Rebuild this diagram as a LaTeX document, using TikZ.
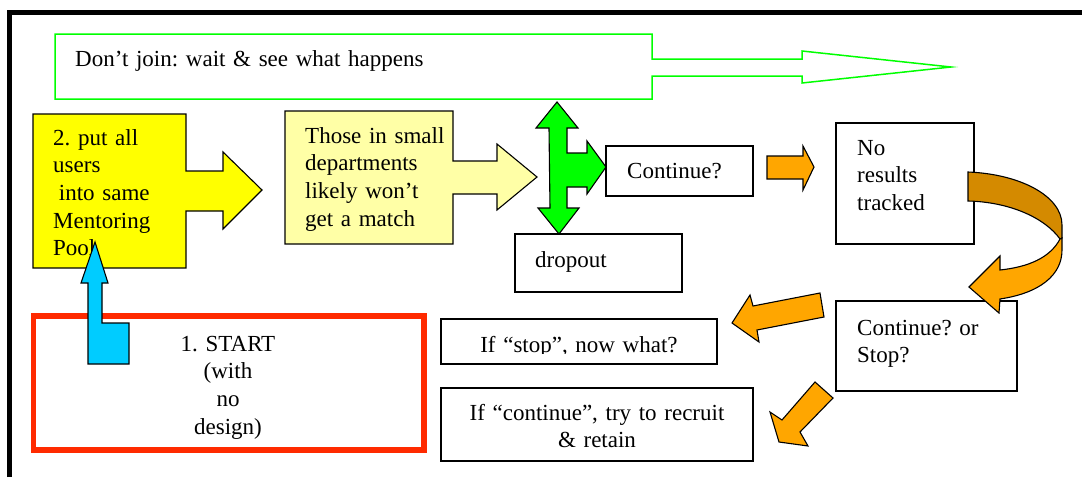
\documentclass[tikz,border=0pt]{standalone}
\usepackage{fontspec}
\setmainfont{Liberation Serif}
\usepackage{xcolor}
\usepackage{tikz}
\usetikzlibrary{calc}
\frenchspacing

\definecolor{poolyellow}{RGB}{255,255,0}
\definecolor{paleyellow}{RGB}{255,255,166}
\definecolor{waitgreen}{RGB}{0,255,0}
\definecolor{startred}{RGB}{255,42,0}
\definecolor{loopcyan}{RGB}{0,204,255}
\definecolor{steporange}{RGB}{255,166,0}
\definecolor{backorange}{RGB}{212,138,0}

\begin{document}
\begin{tikzpicture}[
  x=1pt, y=-1pt,
  every node/.style={inner sep=0pt, font=\fontsize{23}{27.7}\selectfont},
  lbl/.style={align=left, anchor=base west},
  clbl/.style={align=center, anchor=base},
  blk/.style={draw=black, line width=1.1pt}
]
\useasboundingbox[fill=white] (0,0) rectangle (1082,477);

% outer frame
\draw[line width=5pt] (9.5,477) -- (9.5,12.5) -- (1082,12.5);

% wait and see
\draw[waitgreen, line width=1.5pt] (55,34) -- (652,34) -- (652,59) -- (802,59) -- (802,51)
  -- (951,67) -- (802,83) -- (802,76) -- (652,76) -- (652,99) -- (55,99) -- cycle;
\node[lbl, text width=420pt] (wait) at (75,66) {Don’t join: wait \& see what happens};

% step 2 and its consequence
\draw[blk, fill=poolyellow] (33,114) -- (186,114) -- (186,171) -- (223,171) -- (223,152)
  -- (262,190) -- (223,229) -- (223,211) -- (186,211) -- (186,268) -- (33,268) -- cycle;
\node[lbl, text width=120pt] (pool) at (53,145)
  {2. put all\\users\\\hspace*{0.25em}into same\\Mentoring\\Pool};

\draw[blk, fill=paleyellow] (285,111) -- (453,111) -- (453,161) -- (497,161) -- (497,144)
  -- (537,177) -- (497,210) -- (497,194) -- (453,194) -- (453,244) -- (285,244) -- cycle;
\node[lbl, text width=150pt] (small) at (305,143)
  {Those in small\\departments\\likely won’t\\get a match};

% three way split
\draw[blk, fill=waitgreen] (557,102) -- (578,128) -- (567,128) -- (567,153) -- (587,153)
  -- (587,141) -- (606,167) -- (587,194) -- (587,187) -- (567,187) -- (567,208) -- (579,208)
  -- (559,234) -- (538,208) -- (550,208) -- (549,128) -- (536,128) -- cycle;

\draw[blk] (606,146) rectangle (753,196);
\node[lbl, text width=120pt] (cont) at (627,178) {Continue?};
\draw[blk] (515,234) rectangle (682,292);
\node[lbl, text width=120pt] (drop) at (535,267) {dropout};
\draw[blk] (836,123) rectangle (974,244);
\node[lbl, text width=110pt] (nores) at (857,155) {No\\results\\tracked};
\draw[blk] (836,301) rectangle (1017,391);
\node[lbl, text width=150pt] (decide) at (857,335) {Continue? or\\Stop?};

\draw[blk] (441,319) rectangle (717,364);
\begin{scope}
  \clip (441,319) rectangle (717,353);
  \node[clbl, text width=270pt] (ifstop) at (579,352) {If “stop”, now what?};
\end{scope}
\draw[blk] (441,388) rectangle (753,461);
\node[clbl, text width=300pt] (ifcont) at (597,420) {If “continue”, try to recruit\\\& retain};

% orange arrows
\draw[blk, fill=steporange] (767,156) -- (803,156) -- (803,146) -- (814,167) -- (803,190)
  -- (803,179) -- (767,179) -- cycle;
\draw[blk, fill=steporange] (820,293) -- (753,306) -- (750,295) -- (732,323) -- (759,342)
  -- (757,330) -- (824,317) -- cycle;
\draw[blk, fill=steporange] (815,382) -- (833,398) -- (800,432) -- (808,446) -- (779,442)
  -- (770,412) -- (782,420) -- cycle;

% curled arrow: back face, then front face with the head
\draw[blk, fill=backorange] (968,172) .. controls (1020,174) and (1062,196) .. (1062,225)
  -- (1062,238) -- (1060,239) .. controls (1045,218) and (1010,202) .. (968,201) -- cycle;
\draw[blk, fill=steporange] (1060,239) .. controls (1050,258) and (1028,267) .. (1000,270)
  -- (1000,256) -- (969,287) -- (999,313) -- (1000,299)
  .. controls (1040,293) and (1062,275) .. (1062,250) -- (1062,238) -- cycle;

% step 1
\draw[startred, line width=5.5pt] (33.5,316) rectangle (424,450);
\node[clbl, text width=200pt] (start) at (228,351) {1. START\\(with\\no\\design)};

\draw[blk, fill=loopcyan] (95,242) -- (108,283) -- (102,283) -- (102,323) -- (129,323)
  -- (129,364) -- (88,364) -- (88,283) -- (81,283) -- cycle;
\end{tikzpicture}
\end{document}
